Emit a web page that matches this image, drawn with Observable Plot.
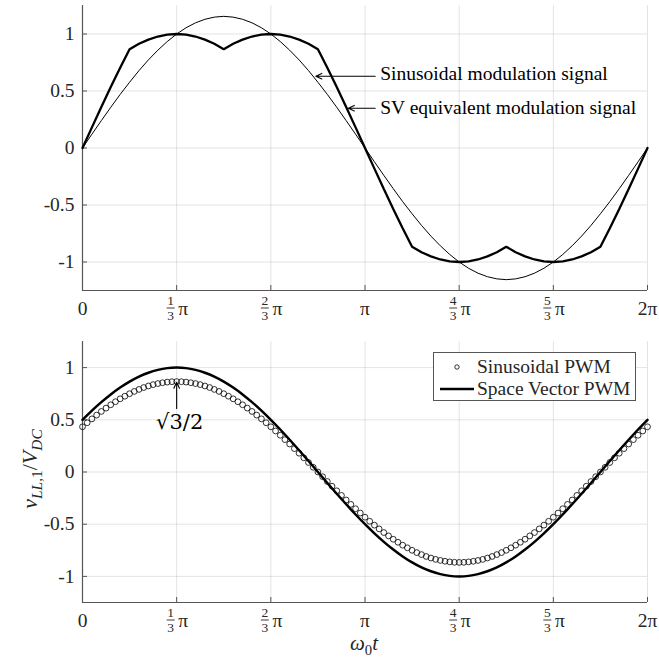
<!DOCTYPE html>
<html>
<head>
<meta charset="utf-8">
<script src="https://cdn.jsdelivr.net/npm/d3@7"></script>
<script src="https://cdn.jsdelivr.net/npm/@observablehq/plot@0.6"></script>
<style>
  html, body { margin: 0; padding: 0; background: #fff; }
  #wrap { position: relative; width: 659px; height: 659px; font-family: 'Liberation Serif', serif; color: #262626; overflow: hidden; }
  #wrap svg { display: block; }
  .abs { position: absolute; white-space: nowrap; }
  .lbl i { font-style: italic; }
  .lbl sub { font-size: 70%; vertical-align: -0.3em; line-height: 0; }
</style>
</head>
<body>
<div id="wrap"></div>
<script>
// ---- data (x in units of pi) ----
const xTicks = [0, 1/3, 2/3, 1, 4/3, 5/3, 2];
const xPlainTicks = [0, 1, 2];
const xPlainLabels = ["0", "π", "2π"];
const xFracTicks = [1/3, 2/3, 4/3, 5/3];
const xFracNum = ["1", "2", "4", "5"];
const xFracDen = ["3", "3", "3", "3"];
const yTicks = [-1, -0.5, 0, 0.5, 1];
const yTickLabels = ["-1", "-0.5", "0", "0.5", "1"];

// top panel: samples every 6 degrees (1/30 pi)
const sinusoidalModulation = [0,.121,.240,.357,.470,.577,.679,.773,.858,.934,1,1.055,1.098,1.129,1.148,1.155,
  1.148,1.129,1.098,1.055,1,.934,.858,.773,.679,.577,.470,.357,.240,.121,0,
  -.121,-.240,-.357,-.470,-.577,-.679,-.773,-.858,-.934,-1,-1.055,-1.098,-1.129,-1.148,-1.155,
  -1.148,-1.129,-1.098,-1.055,-1,-.934,-.858,-.773,-.679,-.577,-.470,-.357,-.240,-.121,0];
const svModulation = [0,.181,.360,.535,.704,.866,
  .914,.951,.978,.995,1,.995,.978,.951,.914,.866,
  .914,.951,.978,.995,1,.995,.978,.951,.914,.866,
  .704,.535,.360,.181,0,-.181,-.360,-.535,-.704,-.866,
  -.914,-.951,-.978,-.995,-1,-.995,-.978,-.951,-.914,-.866,
  -.914,-.951,-.978,-.995,-1,-.995,-.978,-.951,-.914,-.866,
  -.704,-.535,-.360,-.181,0];

// bottom panel
const svpwmFundamental = [.5,.588,.669,.743,.809,.866,.914,.951,.978,.995,1,
  .995,.978,.951,.914,.866,.809,.743,.669,.588,.5,.407,.309,.208,.105,0,
  -.105,-.208,-.309,-.407,-.5,-.588,-.669,-.743,-.809,-.866,-.914,-.951,-.978,-.995,-1,
  -.995,-.978,-.951,-.914,-.866,-.809,-.743,-.669,-.588,-.5,-.407,-.309,-.208,-.105,0,
  .105,.208,.309,.407,.5];
// samples every 3 degrees (1/60 pi)
const spwmFundamental = [.433,.472,.509,.545,.580,.612,.644,.673,.701,.726,.750,.772,.791,.809,.824,.837,.847,.855,.861,.865,.866,
  .865,.861,.855,.847,.837,.824,.809,.791,.772,.750,.726,.701,.673,.644,.612,.580,.545,.509,.472,.433,.393,.352,.310,.268,.224,.180,.136,.091,.045,0,
  -.045,-.091,-.136,-.180,-.224,-.268,-.310,-.352,-.393,-.433,-.472,-.509,-.545,-.580,-.612,-.644,-.673,-.701,-.726,-.750,-.772,-.791,-.809,-.824,-.837,-.847,-.855,-.861,-.865,-.866,
  -.865,-.861,-.855,-.847,-.837,-.824,-.809,-.791,-.772,-.750,-.726,-.701,-.673,-.644,-.612,-.580,-.545,-.509,-.472,-.433,-.393,-.352,-.310,-.268,-.224,-.180,-.136,-.091,-.045,0,
  .045,.091,.136,.180,.224,.268,.310,.352,.393,.433];

// annotations (data coordinates)
const topNotes = [
  {x1: 1.036, x2: 0.826, y: 0.63, tx: 1.054, ty: 0.653, text: "Sinusoidal modulation signal"},
  {x1: 1.036, x2: 0.941, y: 0.349, tx: 1.054, ty: 0.357, text: "SV equivalent modulation signal"}
];
const bottomNotes = [{x: 1/3, y1: 0.608, y2: 0.86, ty: 0.48, text: "√3/2"}];

// ---- drawing ----
const W = 659;
const axisColor = "#555";
const txt = "#262626";
const FS = 19.5;

// horizontal bar symbol for stacked fractions
const fracBar = {draw(context) { context.moveTo(-4, 0); context.lineTo(4, 0); }};

function frameMarks() {
  return [
    Plot.gridX(xTicks, {stroke: "#000", strokeOpacity: 0.11}),
    Plot.gridY(yTicks, {stroke: "#000", strokeOpacity: 0.11}),
    Plot.axisX({ticks: xTicks, tickSize: -5, tickFormat: () => "", stroke: axisColor, label: null}),
    Plot.axisY({ticks: yTicks, tickSize: -5, tickFormat: () => "", stroke: axisColor, label: null}),
    Plot.ruleX([0], {stroke: axisColor, strokeWidth: 1.2}),
    Plot.ruleY([-1.25], {stroke: axisColor, strokeWidth: 1.2}),
    Plot.text(yTicks, {y: d => d, text: (d, i) => yTickLabels[i], frameAnchor: "left", dx: -8, textAnchor: "end", fill: txt, fontSize: FS}),
    Plot.text(xPlainTicks, {x: d => d, text: (d, i) => xPlainLabels[i], frameAnchor: "bottom", dy: 18.5, lineAnchor: "middle", fill: txt, fontSize: FS}),
    Plot.text(xFracTicks, {x: d => d, text: (d, i) => xFracNum[i], frameAnchor: "bottom", dx: -6, dy: 10, lineAnchor: "middle", fill: txt, fontSize: 13.5}),
    Plot.dot(xFracTicks, {x: d => d, frameAnchor: "bottom", dx: -6, dy: 17.5, symbol: fracBar, stroke: txt, strokeWidth: 0.9, fill: "none"}),
    Plot.text(xFracTicks, {x: d => d, text: (d, i) => xFracDen[i], frameAnchor: "bottom", dx: -6, dy: 25.5, lineAnchor: "middle", fill: txt, fontSize: 13.5}),
    Plot.text(xFracTicks, {x: d => d, text: () => "π", frameAnchor: "bottom", dx: 6.5, dy: 18.5, lineAnchor: "middle", fill: txt, fontSize: FS})
  ];
}

function panel(height, marginTop, marginBottom, marks) {
  return Plot.plot({
    width: W, height, marginLeft: 82, marginRight: 12, marginTop, marginBottom,
    x: {domain: [0, 2], axis: null},
    y: {domain: [-1.25, 1.25], axis: null},
    style: {fontFamily: "'Liberation Serif', serif", fontSize: FS + "px", background: "transparent", color: txt, overflow: "visible"},
    marks: [...frameMarks(), ...marks]
  });
}

const step6 = 1/30, step3 = 1/60;
const topSin = sinusoidalModulation.map((v, i) => ({x: i * step6, y: v}));
const topSV = svModulation.map((v, i) => ({x: i * step6, y: v}));
const botSV = svpwmFundamental.map((v, i) => ({x: i * step6, y: v}));
const botS = spwmFundamental.map((v, i) => ({x: i * step3, y: v}));

const topPanel = panel(330, 5, 40, [
  Plot.line(topSin, {x: "x", y: "y", stroke: "black", strokeWidth: 1}),
  Plot.line(topSV, {x: "x", y: "y", stroke: "black", strokeWidth: 2.3, strokeLinejoin: "miter"}),
  Plot.arrow(topNotes, {x1: "x1", x2: "x2", y1: "y", y2: "y", stroke: "black", strokeWidth: 1.1, headLength: 9, headAngle: 50}),
  Plot.text(topNotes, {x: "tx", y: "ty", text: "text", textAnchor: "start", lineAnchor: "middle", fill: "black", fontSize: FS})
]);

const bottomPanel = panel(329, 11, 57, [
  Plot.dot(botS, {x: "x", y: "y", r: 2.9, stroke: "black", strokeWidth: 0.8, fill: "none"}),
  Plot.line(botSV, {x: "x", y: "y", stroke: "black", strokeWidth: 2.5, curve: "natural"}),
  Plot.arrow(bottomNotes, {x1: "x", x2: "x", y1: "y1", y2: "y2", stroke: "black", strokeWidth: 1.1, headLength: 9, headAngle: 50}),
  Plot.text(bottomNotes, {x: "x", y: "ty", text: "text", dx: 3, lineAnchor: "middle", fill: "black", fontSize: 21, fontFamily: "'DejaVu Serif', serif"})
]);

const wrap = document.getElementById("wrap");
const d1 = document.createElement("div"); d1.className = "abs"; d1.style.left = "0px"; d1.style.top = "0px"; d1.appendChild(topPanel);
const d2 = document.createElement("div"); d2.className = "abs"; d2.style.left = "0px"; d2.style.top = "330px"; d2.appendChild(bottomPanel);
wrap.appendChild(d1); wrap.appendChild(d2);

// legend
const legendItems = ["Sinusoidal PWM", "Space Vector PWM"];
const leg = document.createElement("div");
leg.className = "abs";
leg.style.cssText += "left:433px;top:352px;width:203px;height:49px;box-sizing:border-box;border:1px solid #555;background:#fff;";
leg.innerHTML = `<svg width="201" height="47" style="position:absolute;left:0;top:0">
  <circle cx="23" cy="14" r="2.2" fill="none" stroke="black" stroke-width="0.8"/>
  <line x1="6" x2="40" y1="36" y2="36" stroke="black" stroke-width="2.5"/>
  <text x="43" y="14" dy="0.32em" font-size="${FS}" fill="${txt}" font-family="Liberation Serif">${legendItems[0]}</text>
  <text x="43" y="36" dy="0.32em" font-size="${FS}" fill="${txt}" font-family="Liberation Serif">${legendItems[1]}</text>
</svg>`;
wrap.appendChild(leg);

// axis titles
const yl = document.createElement("div");
yl.className = "abs lbl";
yl.style.cssText += "left:30px;top:469px;transform:translate(-50%,-50%) rotate(-90deg);font-size:22px;color:#262626;";
yl.innerHTML = "<i>v</i><sub><i>LL</i>,1</sub>/<i>V</i><sub><i>DC</i></sub>";
wrap.appendChild(yl);

const xl = document.createElement("div");
xl.className = "abs lbl";
xl.style.cssText += "left:364px;top:644px;transform:translate(-50%,-50%);font-size:21px;line-height:1.1;color:#262626;";
xl.innerHTML = "<i>ω</i><sub>0</sub><i>t</i>";
wrap.appendChild(xl);
</script>
</body>
</html>
